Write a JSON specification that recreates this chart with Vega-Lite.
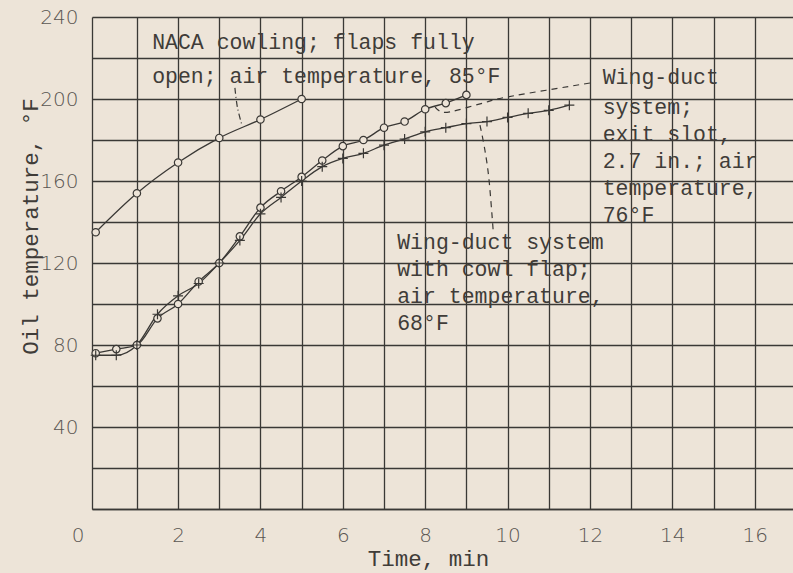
{
  "$schema": "https://vega.github.io/schema/vega-lite/v6.json",
  "width": 701,
  "height": 492,
  "autosize": {"type": "none"},
  "padding": {"left": 92, "top": 17, "right": 0, "bottom": 64},
  "background": "#ede4d8",
  "config": {"view": {"stroke": null}},
  "datasets": {
    "curves": [
      {"series": "NACA", "marker": "o", "x": 0, "y": 135},
      {"series": "NACA", "marker": "o", "x": 1, "y": 154},
      {"series": "NACA", "marker": "o", "x": 2, "y": 169},
      {"series": "NACA", "marker": "o", "x": 3, "y": 181},
      {"series": "NACA", "marker": "o", "x": 4, "y": 190},
      {"series": "NACA", "marker": "o", "x": 5, "y": 200},
      {"series": "slot", "marker": "o", "x": 0, "y": 76},
      {"series": "slot", "marker": "o", "x": 0.5, "y": 78},
      {"series": "slot", "marker": "o", "x": 1, "y": 80},
      {"series": "slot", "marker": "o", "x": 1.5, "y": 93},
      {"series": "slot", "marker": "o", "x": 2, "y": 100},
      {"series": "slot", "marker": "o", "x": 2.5, "y": 111},
      {"series": "slot", "marker": "o", "x": 3, "y": 120},
      {"series": "slot", "marker": "o", "x": 3.5, "y": 133},
      {"series": "slot", "marker": "o", "x": 4, "y": 147},
      {"series": "slot", "marker": "o", "x": 4.5, "y": 155},
      {"series": "slot", "marker": "o", "x": 5, "y": 162},
      {"series": "slot", "marker": "o", "x": 5.5, "y": 170},
      {"series": "slot", "marker": "o", "x": 6, "y": 177},
      {"series": "slot", "marker": "o", "x": 6.5, "y": 180},
      {"series": "slot", "marker": "o", "x": 7, "y": 186},
      {"series": "slot", "marker": "o", "x": 7.5, "y": 189},
      {"series": "slot", "marker": "o", "x": 8, "y": 195},
      {"series": "slot", "marker": "o", "x": 8.5, "y": 198},
      {"series": "slot", "marker": "o", "x": 9, "y": 202},
      {"series": "cowl", "marker": "+", "x": 0, "y": 75},
      {"series": "cowl", "marker": "+", "x": 0.5, "y": 75},
      {"series": "cowl", "marker": "+", "x": 1, "y": 80},
      {"series": "cowl", "marker": "+", "x": 1.5, "y": 95},
      {"series": "cowl", "marker": "+", "x": 2, "y": 104},
      {"series": "cowl", "marker": "+", "x": 2.5, "y": 110},
      {"series": "cowl", "marker": "+", "x": 3, "y": 120},
      {"series": "cowl", "marker": "+", "x": 3.5, "y": 131},
      {"series": "cowl", "marker": "+", "x": 4, "y": 144},
      {"series": "cowl", "marker": "+", "x": 4.5, "y": 152},
      {"series": "cowl", "marker": "+", "x": 5, "y": 160},
      {"series": "cowl", "marker": "+", "x": 5.5, "y": 167},
      {"series": "cowl", "marker": "+", "x": 6, "y": 171},
      {"series": "cowl", "marker": "+", "x": 6.5, "y": 173.5},
      {"series": "cowl", "marker": "+", "x": 7, "y": 177.5},
      {"series": "cowl", "marker": "+", "x": 7.5, "y": 180.5},
      {"series": "cowl", "marker": "+", "x": 8, "y": 184},
      {"series": "cowl", "marker": "+", "x": 8.5, "y": 186},
      {"series": "cowl", "marker": "+", "x": 9, "y": 188},
      {"series": "cowl", "marker": "+", "x": 9.5, "y": 189},
      {"series": "cowl", "marker": "+", "x": 10, "y": 191},
      {"series": "cowl", "marker": "+", "x": 10.5, "y": 193},
      {"series": "cowl", "marker": "+", "x": 11, "y": 194.5},
      {"series": "cowl", "marker": "+", "x": 11.5, "y": 197}
    ],
    "leaders": [
      {"leader": "a", "i": 0, "x": 3.38, "y": 205.4},
      {"leader": "a", "i": 1, "x": 3.44, "y": 196},
      {"leader": "a", "i": 2, "x": 3.55, "y": 187.3},
      {"leader": "b", "i": 0, "x": 12.0, "y": 207.8},
      {"leader": "b", "i": 1, "x": 9.99, "y": 201},
      {"leader": "b", "i": 2, "x": 9.4, "y": 198},
      {"leader": "b", "i": 3, "x": 8.6, "y": 193.7},
      {"leader": "b", "i": 4, "x": 8.36, "y": 194.1},
      {"leader": "b", "i": 5, "x": 8.24, "y": 196},
      {"leader": "c", "i": 0, "x": 9.33, "y": 187.3},
      {"leader": "c", "i": 1, "x": 9.45, "y": 175},
      {"leader": "c", "i": 2, "x": 9.55, "y": 160.5},
      {"leader": "c", "i": 3, "x": 9.65, "y": 136}
    ],
    "labels": [
      {"x": 1.37, "y": 227.3, "t": "NACA cowling; flaps fully"},
      {"x": 1.37, "y": 210.7, "t": "open; air temperature, 85°F"},
      {"x": 12.31, "y": 210.2, "t": "Wing-duct"},
      {"x": 12.31, "y": 195.6, "t": "system;"},
      {"x": 12.31, "y": 182.4, "t": "exit slot,"},
      {"x": 12.31, "y": 169.2, "t": "2.7 in.; air"},
      {"x": 12.31, "y": 156.0, "t": "temperature,"},
      {"x": 12.31, "y": 142.8, "t": "76°F"},
      {"x": 7.32, "y": 129.8, "t": "Wing-duct system"},
      {"x": 7.32, "y": 116.6, "t": "with cowl flap;"},
      {"x": 7.32, "y": 103.4, "t": "air temperature,"},
      {"x": 7.32, "y": 90.2, "t": "68°F"}
    ]
  },
  "encoding": {
    "x": {
      "field": "x", "type": "quantitative",
      "scale": {"domain": [-0.09, 16.93], "nice": false, "zero": false},
      "axis": {
        "title": "Time, min",
        "values": [0,1,2,3,4,5,6,7,8,9,10,11,12,13,14,15,16],
        "grid": true,
        "gridColor": {"condition": {"test": "datum.value == 0", "value": "transparent"}, "value": "#3a3835"},
        "gridWidth": 1.3,
        "domain": true, "domainColor": "#3a3835", "domainWidth": 1.3,
        "ticks": false,
        "labelExpr": "datum.value % 2 == 0 ? datum.label : ''",
        "labelOffset": {"condition": {"test": "datum.value == 0", "value": -18}, "value": 0},
        "labelPadding": 16,
        "labelFont": "DejaVu Sans", "labelFontSize": 20, "labelFontWeight": 300, "labelColor": "#5a5652",
        "titleFont": "Liberation Mono", "titleFontSize": 22.5, "titleFontWeight": "normal", "titleColor": "#403c38",
        "titleX": 336, "titleY": 49, "titleBaseline": "middle", "titleAlign": "center"
      }
    },
    "y": {
      "field": "y", "type": "quantitative",
      "scale": {"domain": [0, 240], "nice": false},
      "axis": {
        "title": "Oil temperature, °F",
        "values": [0,20,40,60,80,100,120,140,160,180,200,220,240],
        "grid": true, "gridColor": "#3a3835", "gridWidth": 1.3,
        "domain": true, "domainColor": "#3a3835", "domainWidth": 1.3,
        "ticks": false,
        "labelExpr": "datum.value % 40 == 0 && datum.value > 0 ? datum.label : ''",
        "labelPadding": 14,
        "labelFont": "DejaVu Sans", "labelFontSize": 20, "labelFontWeight": 300, "labelColor": "#5a5652",
        "titleFont": "Liberation Mono", "titleFontSize": 22.5, "titleFontWeight": "normal", "titleColor": "#403c38",
        "titleX": -62, "titleY": 209, "titleAngle": -90, "titleBaseline": "middle", "titleAlign": "center"
      }
    }
  },
  "layer": [
    {
      "data": {"name": "curves"},
      "mark": {"type": "line", "interpolate": "monotone", "stroke": "#3a3835", "strokeWidth": 1.3},
      "encoding": {"detail": {"field": "series"}}
    },
    {
      "data": {"name": "leaders"},
      "mark": {"type": "line", "interpolate": "cardinal", "stroke": "#3a3835", "strokeWidth": 1.2},
      "encoding": {
        "detail": {"field": "leader"},
        "order": {"field": "i"},
        "strokeDash": {"field": "leader", "type": "nominal", "scale": {"domain": ["a", "b", "c"], "range": [[6, 3, 1, 3], [6, 5], [6, 5]]}, "legend": null}
      }
    },
    {
      "data": {"name": "curves"},
      "mark": {"type": "point", "filled": true, "fill": "#ede4d8", "stroke": "#3a3835", "strokeWidth": 1.2, "opacity": 1},
      "encoding": {
        "shape": {"field": "marker", "type": "nominal", "scale": {"domain": ["o", "+"], "range": ["circle", "M-1,0L1,0M0,-1L0,1"]}, "legend": null},
        "size": {"field": "marker", "type": "nominal", "scale": {"domain": ["o", "+"], "range": [55, 100]}, "legend": null}
      }
    },
    {
      "data": {"name": "labels"},
      "mark": {"type": "text", "align": "left", "baseline": "middle", "font": "Liberation Mono", "fontSize": 21.5, "color": "#403c38"},
      "encoding": {"text": {"field": "t"}}
    }
  ]
}
